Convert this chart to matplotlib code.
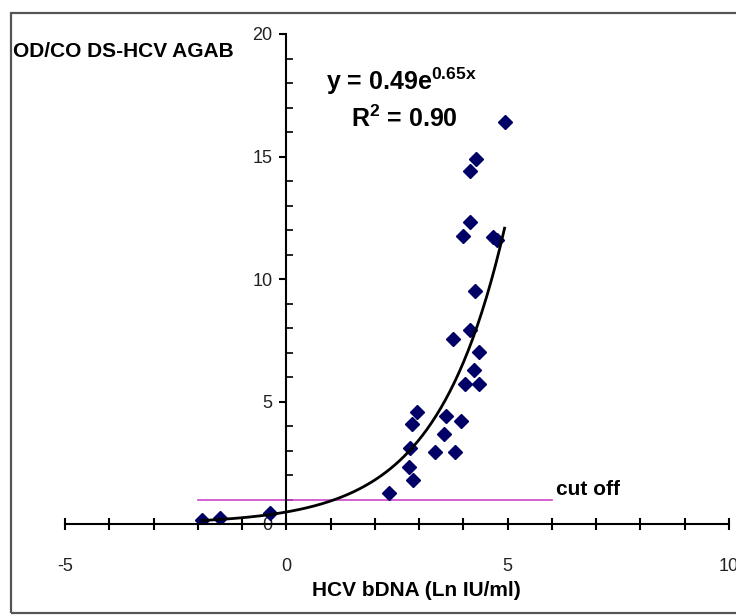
import matplotlib
matplotlib.use('Agg')
import matplotlib.pyplot as plt
import numpy as np
from matplotlib.patches import Rectangle
from matplotlib.ticker import MultipleLocator

plt.rcParams['font.family'] = ['Liberation Sans', 'DejaVu Sans']
plt.rcParams['mathtext.fontset'] = 'custom'
plt.rcParams['mathtext.rm'] = 'Liberation Sans'
plt.rcParams['mathtext.bf'] = 'Liberation Sans:bold'
plt.rcParams['axes.unicode_minus'] = False

# HCV bDNA (Ln IU/ml) vs OD/CO
bdna = [-1.91, -1.50, -0.38, 2.31, 2.86, 2.76, 3.35, 3.80, 2.80, 3.56,
        2.84, 3.95, 3.61, 2.95, 4.04, 4.35, 4.25, 4.35, 3.76, 4.14,
        4.27, 4.67, 4.77, 3.99, 4.16, 4.16, 4.28, 4.93]
odco = [0.16, 0.23, 0.44, 1.28, 1.80, 2.34, 2.95, 2.95, 3.09, 3.67,
        4.07, 4.22, 4.41, 4.56, 5.70, 5.70, 6.29, 7.03, 7.56, 7.92,
        9.52, 11.73, 11.59, 11.76, 12.34, 14.42, 14.88, 16.40]

fit_a = 0.49
fit_b = 0.65
cutoff = 1.0
cutoff_span = [-2, 6]

fig = plt.figure(figsize=(7.36, 6.15), dpi=100)
ax = fig.add_axes([65 / 736, 1 - 524 / 615, (729 - 65) / 736, (524 - 34) / 615])
ax.set_xlim(-5, 10)
ax.set_ylim(0, 20)

# outer chart border (cut off on the right as in the original)
fig.patches.append(Rectangle((11 / 736, 1 - 613 / 615), 1.0, (613 - 13) / 615,
                             transform=fig.transFigure, fill=False,
                             edgecolor='#555555', linewidth=1.6))

ax.plot(cutoff_span, [cutoff, cutoff], color='#cc44cc', lw=1.2, zorder=2)

xs = np.linspace(min(bdna), max(bdna), 200)
ax.plot(xs, fit_a * np.exp(fit_b * xs), color='black', lw=2.0, zorder=4)

ax.plot(bdna, odco, 'D', color='#000066', markersize=7, zorder=3,
        linestyle='none')

for side in ['top', 'right']:
    ax.spines[side].set_visible(False)
ax.spines['left'].set_position(('data', 0))
ax.spines['bottom'].set_position(('data', 0))
for side in ['left', 'bottom']:
    ax.spines[side].set_linewidth(1.5)
    ax.spines[side].set_zorder(5)

ax.xaxis.set_major_locator(MultipleLocator(5))
ax.xaxis.set_minor_locator(MultipleLocator(1))
ax.yaxis.set_major_locator(MultipleLocator(5))
ax.yaxis.set_minor_locator(MultipleLocator(1))
ax.tick_params(axis='x', which='major', direction='inout', length=9, width=1.5,
               pad=20, labelsize=13, labelcolor='#222222')
ax.tick_params(axis='x', which='minor', direction='inout', length=8, width=1.5)
ax.tick_params(axis='y', which='major', direction='out', length=5, width=1.5,
               pad=5, labelsize=13, labelcolor='#222222')
ax.tick_params(axis='y', which='minor', direction='in', length=5, width=1.2)

ax.text(0.9, 17.71, r'y = 0.49e$^{\mathbf{0.65x}}$', fontsize=18,
        fontweight='bold', ha='left', va='baseline')
ax.text(1.47, 16.22, r'R$^{\mathbf{2}}$ = 0.90', fontsize=18,
        fontweight='bold', ha='left', va='baseline')
ax.text(6.09, 1.39, 'cut off', fontsize=15, fontweight='bold',
        ha='left', va='center')

fig.text(13 / 736, 1 - 57 / 615, 'OD/CO DS-HCV AGAB', fontsize=15,
         fontweight='bold', ha='left', va='baseline')
fig.text(312 / 736, 1 - 596 / 615, 'HCV bDNA (Ln IU/ml)', fontsize=15,
         fontweight='bold', ha='left', va='baseline')

fig.savefig('out.png', dpi=100)
